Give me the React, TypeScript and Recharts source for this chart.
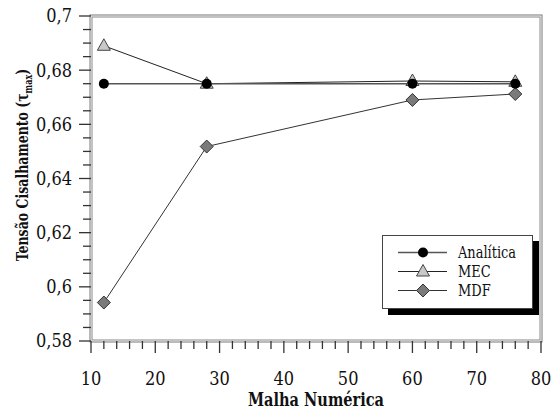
import { LineChart, Line, XAxis, YAxis, Legend, ReferenceArea, Label } from "recharts"

const MALHA = [12, 28, 60, 76]
const ANALITICA = [0.675, 0.675, 0.675, 0.675]
const MEC = [0.689, 0.675, 0.676, 0.6757]
const MDF = [0.5942, 0.6518, 0.669, 0.6712]

const X_LABELS = [10, 20, 30, 40, 50, 60, 70, 80]
const Y_LABELS = [0.58, 0.6, 0.62, 0.64, 0.66, 0.68, 0.7]

// minor ticks: every 2 on x, every 0.005 on y
const X_TICKS = Array.from({ length: 36 }, (_, i) => 10 + i * 2)
const Y_TICKS = Array.from({ length: 25 }, (_, i) => Math.round((0.58 + i * 0.005) * 1000) / 1000)

const data = MALHA.map((x, i) => ({
  x,
  analitica: ANALITICA[i],
  mec: MEC[i],
  mdf: MDF[i],
}))

const SERIF = "DejaVu Serif Condensed"
const TICK_COLOR = "#333"

const fmt = (v: number) => String(Math.round(v * 1000) / 1000).replace(".", ",")
const isMajor = (v: number, list: number[]) => list.some((l) => Math.abs(l - v) < 1e-6)

function XTick({ x, y, payload }: any) {
  const major = isMajor(payload.value, X_LABELS)
  return (
    <g>
      <line x1={x} x2={x} y1={y} y2={y + (major ? 12 : 8)} stroke={TICK_COLOR} strokeWidth={1.3} />
      {major && (
        <text x={x} y={y + 44} textAnchor="middle" fontFamily={SERIF} fontSize={18} fill="#111">
          {payload.value}
        </text>
      )}
    </g>
  )
}

function YTick({ x, y, payload }: any) {
  const major = isMajor(payload.value, Y_LABELS)
  return (
    <g>
      <line x1={x} x2={x - (major ? 12 : 8)} y1={y} y2={y} stroke={TICK_COLOR} strokeWidth={1.3} />
      {major && (
        <text x={x - 19} y={y} dy="0.36em" textAnchor="end" fontFamily={SERIF} fontSize={18} fill="#111">
          {fmt(payload.value)}
        </text>
      )}
    </g>
  )
}

// double grey frame around the plot
const Frame = (p: any) => (
  <g>
    <rect x={p.x - 1} y={p.y - 1} width={p.width + 2} height={p.height + 2} fill="none" stroke="#777" strokeWidth={1} />
    <rect x={p.x + 1} y={p.y + 1} width={p.width - 2} height={p.height - 2} fill="none" stroke="#888" strokeWidth={1} />
  </g>
)

const circleAt = (cx: number, cy: number) => <circle cx={cx} cy={cy} r={5} fill="#000" />
const triangleAt = (cx: number, cy: number) => (
  <polygon
    points={`${cx},${cy - 7} ${cx - 6.5},${cy + 4.5} ${cx + 6.5},${cy + 4.5}`}
    fill="#c8c8c8"
    stroke="#444"
    strokeWidth={1}
  />
)
const diamondAt = (cx: number, cy: number) => (
  <polygon
    points={`${cx},${cy - 6.5} ${cx + 6.5},${cy} ${cx},${cy + 6.5} ${cx - 6.5},${cy}`}
    fill="#7a7a7a"
    stroke="#333"
    strokeWidth={1}
  />
)

const SERIES = [
  { name: "Analítica", marker: circleAt, stroke: "#555", width: 1.5 },
  { name: "MEC", marker: triangleAt, stroke: "#222", width: 1 },
  { name: "MDF", marker: diamondAt, stroke: "#333", width: 1 },
]

function LegendBox() {
  return (
    <div
      style={{
        width: 149,
        height: 65,
        border: "1px solid #444",
        background: "#fff",
        boxShadow: "6px 6px 0 #000",
        paddingTop: 7,
        boxSizing: "content-box",
        fontFamily: SERIF,
        fontSize: 16,
        color: "#111",
      }}
    >
      {SERIES.map((s) => (
        <div key={s.name} style={{ display: "flex", alignItems: "center", height: 19 }}>
          <svg width={70} height={19}>
            <line x1={15} x2={64} y1={9.5} y2={9.5} stroke={s.stroke} strokeWidth={s.width} />
            {s.marker(40, 9.5)}
          </svg>
          <span
            style={{
              marginLeft: 5,
              lineHeight: "19px",
              display: "inline-block",
              transform: "scaleX(0.9)",
              transformOrigin: "left center",
            }}
          >
            {s.name}
          </span>
        </div>
      ))}
    </div>
  )
}

export default function App() {
  return (
    <div style={{ position: "absolute", left: 0, top: 0, background: "#fff" }}>
      <LineChart width={552} height={411} data={data} margin={{ top: 16, right: 11, bottom: 0, left: 0 }}>
        <XAxis
          type="number"
          dataKey="x"
          domain={[10, 80]}
          ticks={X_TICKS}
          interval={0}
          tick={<XTick />}
          tickLine={false}
          axisLine={false}
          tickSize={0}
          tickMargin={0}
          height={70}
        >
          <Label
            content={() => (
              <text
                x={316}
                y={406}
                textAnchor="middle"
                fontFamily={SERIF}
                fontSize={18}
                fontWeight="bold"
                fill="#111"
                textLength={136}
                lengthAdjust="spacingAndGlyphs"
              >
                Malha Numérica
              </text>
            )}
          />
        </XAxis>
        <YAxis
          type="number"
          domain={[0.58, 0.7]}
          ticks={Y_TICKS}
          interval={0}
          tick={<YTick />}
          tickLine={false}
          axisLine={false}
          tickSize={0}
          tickMargin={0}
          width={91}
        >
          <Label
            content={() => (
              <text
                transform="translate(28,165) rotate(-90) scale(0.82,1)"
                textAnchor="middle"
                fontFamily={SERIF}
                fontSize={17}
                fontWeight="bold"
                fill="#111"
              >
                Tensão Cisalhamento (τ
                <tspan dy={4} fontSize={11}>max</tspan>
                <tspan dy={-4}>)</tspan>
              </text>
            )}
          />
        </YAxis>
        <ReferenceArea x1={10} x2={80} y1={0.58} y2={0.7} shape={Frame} />
        <Line
          dataKey="mdf"
          name="MDF"
          stroke="#333"
          strokeWidth={1}
          isAnimationActive={false}
          dot={(p: any) => <g key={`mdf${p.index}`}>{diamondAt(p.cx, p.cy)}</g>}
        />
        <Line
          dataKey="mec"
          name="MEC"
          stroke="#222"
          strokeWidth={1}
          isAnimationActive={false}
          dot={(p: any) => <g key={`mec${p.index}`}>{triangleAt(p.cx, p.cy)}</g>}
        />
        <Line
          dataKey="analitica"
          name="Analítica"
          stroke="#555"
          strokeWidth={1.5}
          isAnimationActive={false}
          dot={(p: any) => <g key={`an${p.index}`}>{circleAt(p.cx, p.cy)}</g>}
        />
        <Legend
          layout="vertical"
          align="center"
          verticalAlign="middle"
          content={<LegendBox />}
          wrapperStyle={{ left: 382, top: 235, width: 151, height: 67 }}
        />
      </LineChart>
    </div>
  )
}
